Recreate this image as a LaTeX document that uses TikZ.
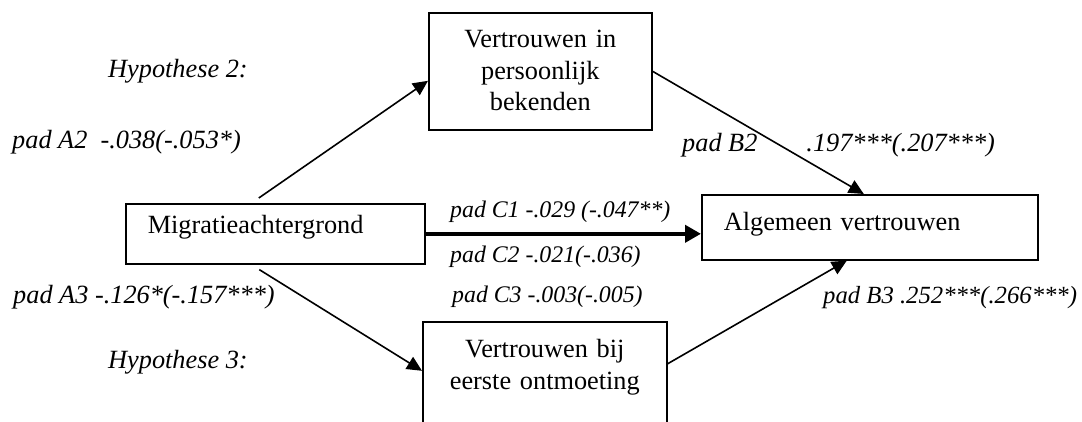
\documentclass[tikz,border=0pt]{standalone}
\usepackage{fontspec}
\setmainfont{Liberation Serif}
\usetikzlibrary{arrows.meta}

\tikzset{
  varbox/.style={draw, line width=1.6pt, inner ysep=0pt, inner xsep=22pt, text width=#1, align=left},
  padlabel/.style={anchor=base west, inner sep=0pt, font=\fontsize{#1}{31.5}\selectfont\itshape},
  padlabel/.default=26.3,
  pad/.style={-{Triangle[length=15pt,width=14pt]}, line width=1.6pt},
  mainpad/.style={-{Triangle[length=16pt,width=17pt]}, line width=4.5pt}
}

\begin{document}
\begin{tikzpicture}[x=1pt, y=-1pt, font=\fontsize{26.3}{31.5}\selectfont]
    \useasboundingbox (0,0) rectangle (1082,421);

    % variabelen
    \node[varbox=255pt, anchor=north west, text height=30pt, text depth=30pt] (migr) at (125,203) {Migratieachtergrond};
    \node[varbox=292pt, anchor=north west, text height=36pt, text depth=29pt] (alg) at (701,194) {Algemeen vertrouwen};
    \node[varbox=223pt, inner xsep=0pt, align=center, anchor=north west, text height=35pt, text depth=82pt] (pers) at (428,12) {Vertrouwen in\\persoonlijk\\bekenden};
    \node[varbox=244pt, inner xsep=0pt, align=center, anchor=north west, text height=36pt, text depth=81pt] (eerst) at (422,321) {Vertrouwen bij\\eerste ontmoeting};

    % paden
    \draw[pad] ([xshift=-16.5pt,yshift=5pt]migr.north) -- ([yshift=-9.5pt]pers.west);
    \draw[pad] (pers.east) -- ([xshift=-6pt]alg.north);
    \draw[mainpad] (migr.east) -- ([yshift=-6.5pt]alg.west);
    \draw[pad] ([xshift=-16pt,yshift=-5pt]migr.south) -- ([yshift=9.5pt]eerst.west);
    \draw[pad] ([yshift=16.5pt]eerst.east) -- ([xshift=-23pt]alg.south);

    % labels
    \node[padlabel] (hyp2) at (108,77) {Hypothese 2:};
    \node[padlabel] (padA2) at (12,148) {pad A2~~-.038(-.053*)};
    \node[padlabel] (padB2) at (682,151) {pad B2\hspace{49pt}.197***(.207***)};
    \node[padlabel=23.8] (padC1) at (450,217) {pad C1 -.029 (-.047**)};
    \node[padlabel=23.8] (padC2) at (450,262) {pad C2 -.021(-.036)};
    \node[padlabel] (padA3) at (13,303) {pad A3 -.126*(-.157***)};
    \node[padlabel=23.8] (padC3) at (452,302) {pad C3 -.003(-.005)};
    \node[padlabel=24.7] (padB3) at (823,303) {pad B3 .252***(.266***)};
    \node[padlabel] (hyp3) at (108,368) {Hypothese 3:};
\end{tikzpicture}
\end{document}
